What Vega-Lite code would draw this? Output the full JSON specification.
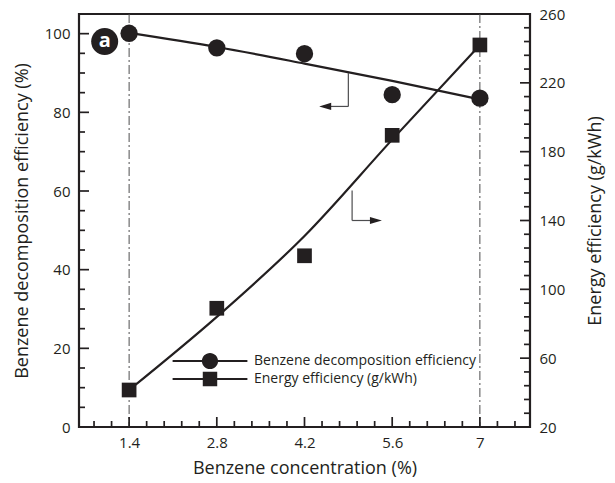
{
  "$schema": "https://vega.github.io/schema/vega-lite/v6.json",
  "width": 451,
  "height": 413,
  "autosize": "none",
  "padding": {"left": 79, "top": 14, "right": 85, "bottom": 56},
  "background": "white",
  "config": {
    "font": "Open Sans",
    "view": {"stroke": "#231f20", "strokeWidth": 2.2},
    "axis": {
      "domain": false,
      "grid": false,
      "ticks": false,
      "tickSize": 0,
      "labelColor": "#231f20",
      "titleColor": "#231f20",
      "labelFont": "Open Sans",
      "titleFont": "Open Sans",
      "labelFontSize": 15,
      "titleFontSize": 18,
      "titleFontWeight": "normal",
      "labelOverlap": false,
      "labelFlush": false
    }
  },
  "datasets": {
    "measured": [
      {"conc": 1.4, "decomposition": 100.1, "energy": 41.5},
      {"conc": 2.8, "decomposition": 96.4, "energy": 89},
      {"conc": 4.2, "decomposition": 94.9, "energy": 119.5},
      {"conc": 5.6, "decomposition": 84.5, "energy": 189.5},
      {"conc": 7.0, "decomposition": 83.6, "energy": 242}
    ],
    "fitted": [
      {"conc": 1.4, "decomposition": 100.2, "energy": 41.5},
      {"conc": 2.8, "decomposition": 96.6, "energy": 84},
      {"conc": 4.2, "decomposition": 92.4, "energy": 131},
      {"conc": 5.6, "decomposition": 88.0, "energy": 187},
      {"conc": 7.0, "decomposition": 83.3, "energy": 242}
    ],
    "bounds": [{"conc": 1.4}, {"conc": 7.0}],
    "xTicks": [
      {"v": 0.84, "kind": "minor"}, {"v": 1.12, "kind": "minor"}, {"v": 1.4, "kind": "major"},
      {"v": 1.68, "kind": "minor"}, {"v": 1.96, "kind": "minor"}, {"v": 2.24, "kind": "minor"}, {"v": 2.52, "kind": "minor"}, {"v": 2.8, "kind": "major"},
      {"v": 3.08, "kind": "minor"}, {"v": 3.36, "kind": "minor"}, {"v": 3.64, "kind": "minor"}, {"v": 3.92, "kind": "minor"}, {"v": 4.2, "kind": "major"},
      {"v": 4.48, "kind": "minor"}, {"v": 4.76, "kind": "minor"}, {"v": 5.04, "kind": "minor"}, {"v": 5.32, "kind": "minor"}, {"v": 5.6, "kind": "major"},
      {"v": 5.88, "kind": "minor"}, {"v": 6.16, "kind": "minor"}, {"v": 6.44, "kind": "minor"}, {"v": 6.72, "kind": "minor"}, {"v": 7.0, "kind": "major"},
      {"v": 7.28, "kind": "minor"}, {"v": 7.56, "kind": "minor"}
    ],
    "leftTicks": [
      {"v": 0, "kind": "major"}, {"v": 5, "kind": "minor"}, {"v": 10, "kind": "minor"}, {"v": 15, "kind": "minor"},
      {"v": 20, "kind": "major"}, {"v": 25, "kind": "minor"}, {"v": 30, "kind": "minor"}, {"v": 35, "kind": "minor"},
      {"v": 40, "kind": "major"}, {"v": 45, "kind": "minor"}, {"v": 50, "kind": "minor"}, {"v": 55, "kind": "minor"},
      {"v": 60, "kind": "major"}, {"v": 65, "kind": "minor"}, {"v": 70, "kind": "minor"}, {"v": 75, "kind": "minor"},
      {"v": 80, "kind": "major"}, {"v": 85, "kind": "minor"}, {"v": 90, "kind": "minor"}, {"v": 95, "kind": "minor"},
      {"v": 100, "kind": "major"}
    ],
    "rightTicks": [
      {"v": 28, "kind": "minor"}, {"v": 36, "kind": "minor"}, {"v": 44, "kind": "minor"}, {"v": 52, "kind": "minor"},
      {"v": 60, "kind": "major"}, {"v": 68, "kind": "minor"}, {"v": 76, "kind": "minor"}, {"v": 84, "kind": "minor"}, {"v": 92, "kind": "minor"},
      {"v": 100, "kind": "major"}, {"v": 108, "kind": "minor"}, {"v": 116, "kind": "minor"}, {"v": 124, "kind": "minor"}, {"v": 132, "kind": "minor"},
      {"v": 140, "kind": "major"}, {"v": 148, "kind": "minor"}, {"v": 156, "kind": "minor"}, {"v": 164, "kind": "minor"}, {"v": 172, "kind": "minor"},
      {"v": 180, "kind": "major"}, {"v": 188, "kind": "minor"}, {"v": 196, "kind": "minor"}, {"v": 204, "kind": "minor"}, {"v": 212, "kind": "minor"},
      {"v": 220, "kind": "major"}, {"v": 228, "kind": "minor"}, {"v": 236, "kind": "minor"}, {"v": 244, "kind": "minor"}, {"v": 252, "kind": "minor"}
    ],
    "decompArrow": [
      {"x": 4.9, "x2": 4.9, "y": 90.0, "y2": 81.5},
      {"x": 4.9, "x2": 4.5, "y": 81.5, "y2": 81.5}
    ],
    "decompHead": [{"x": 4.53, "y": 81.5}],
    "energyArrow": [
      {"x": 4.96, "x2": 4.96, "y": 157.4, "y2": 140},
      {"x": 4.96, "x2": 5.33, "y": 140, "y2": 140}
    ],
    "energyHead": [{"x": 5.34, "y": 140}],
    "panel": [{"x": 1.01, "y": 98.0, "label": "a"}],
    "series": [
      {"series": "Benzene decomposition efficiency"},
      {"series": "Energy efficiency (g/kWh)"}
    ]
  },
  "layer": [
    {
      "data": {"name": "bounds"},
      "mark": {"type": "rule", "color": "#4d4d4f", "strokeWidth": 1, "strokeDash": [9, 3, 2, 3]},
      "encoding": {
        "x": {
          "field": "conc", "type": "quantitative",
          "scale": {"domain": [0.6, 7.8], "nice": false, "zero": false},
          "axis": {
            "orient": "bottom",
            "values": [1.4, 2.8, 4.2, 5.6, 7],
            "labelExpr": "datum.value == 7 ? '7' : format(datum.value, '.1f')",
            "labelPadding": 8,
            "title": "Benzene concentration (%)",
            "titlePadding": 9
          }
        }
      }
    },
    {
      "data": {"name": "xTicks"},
      "mark": {"type": "tick", "orient": "vertical", "clip": true, "color": "#231f20", "thickness": 1.7, "opacity": 1},
      "encoding": {
        "x": {"field": "v", "type": "quantitative", "axis": null},
        "y": {"datum": 0, "type": "quantitative", "scale": {"domain": [0, 105], "nice": false}, "axis": null},
        "size": {"field": "kind", "type": "nominal", "scale": {"domain": ["major", "minor"], "range": [20, 12]}, "legend": null}
      }
    },
    {
      "data": {"name": "leftTicks"},
      "mark": {"type": "tick", "orient": "horizontal", "clip": true, "color": "#231f20", "thickness": 1.7, "opacity": 1},
      "encoding": {
        "x": {"datum": 0.6, "type": "quantitative", "axis": null},
        "y": {"field": "v", "type": "quantitative", "scale": {"domain": [0, 105], "nice": false}, "axis": null},
        "size": {"field": "kind", "type": "nominal", "scale": {"domain": ["major", "minor"], "range": [20, 12]}, "legend": null}
      }
    },
    {
      "data": {"name": "rightTicks"},
      "mark": {"type": "tick", "orient": "horizontal", "clip": true, "color": "#231f20", "thickness": 1.7, "opacity": 1},
      "encoding": {
        "x": {"datum": 7.8, "type": "quantitative", "axis": null},
        "y": {"field": "v", "type": "quantitative", "scale": {"domain": [20, 260], "nice": false, "zero": false}, "axis": null},
        "size": {"field": "kind", "type": "nominal", "scale": {"domain": ["major", "minor"], "range": [20, 12]}, "legend": null}
      }
    },
    {
      "data": {"name": "fitted"},
      "mark": {"type": "line", "color": "#231f20", "strokeWidth": 2.2, "interpolate": "monotone"},
      "encoding": {
        "x": {"field": "conc", "type": "quantitative", "axis": null},
        "y": {
          "field": "decomposition", "type": "quantitative",
          "scale": {"domain": [0, 105], "nice": false},
          "axis": {
            "orient": "left",
            "values": [0, 20, 40, 60, 80, 100],
            "labelPadding": 9,
            "title": "Benzene decomposition efficiency (%)",
            "titlePadding": 13
          }
        }
      }
    },
    {
      "data": {"name": "measured"},
      "mark": {"type": "point", "shape": "circle", "filled": true, "color": "#231f20", "opacity": 1, "size": 300},
      "encoding": {
        "x": {"field": "conc", "type": "quantitative", "axis": null},
        "y": {"field": "decomposition", "type": "quantitative", "scale": {"domain": [0, 105], "nice": false}, "axis": null}
      }
    },
    {
      "data": {"name": "fitted"},
      "mark": {"type": "line", "color": "#231f20", "strokeWidth": 2.2, "interpolate": "monotone"},
      "encoding": {
        "x": {"field": "conc", "type": "quantitative", "axis": null},
        "y": {
          "field": "energy", "type": "quantitative",
          "scale": {"domain": [20, 260], "nice": false, "zero": false},
          "axis": {
            "orient": "right",
            "values": [20, 60, 100, 140, 180, 220, 260],
            "labelPadding": 9,
            "title": "Energy efficiency (g/kWh)",
            "titleAngle": 270,
            "titlePadding": 40
          }
        }
      }
    },
    {
      "data": {"name": "measured"},
      "mark": {"type": "point", "shape": "square", "filled": true, "color": "#231f20", "opacity": 1, "size": 216},
      "encoding": {
        "x": {"field": "conc", "type": "quantitative", "axis": null},
        "y": {"field": "energy", "type": "quantitative", "scale": {"domain": [20, 260], "nice": false, "zero": false}, "axis": null}
      }
    },
    {
      "data": {"name": "decompArrow"},
      "mark": {"type": "rule", "color": "#4d4d4f", "strokeWidth": 1.2},
      "encoding": {
        "x": {"field": "x", "type": "quantitative", "axis": null},
        "x2": {"field": "x2"},
        "y": {"field": "y", "type": "quantitative", "scale": {"domain": [0, 105], "nice": false}, "axis": null},
        "y2": {"field": "y2"}
      }
    },
    {
      "data": {"name": "decompHead"},
      "mark": {"type": "point", "shape": "M-1,0L1,-0.6L1,0.6Z", "filled": true, "color": "#231f20", "opacity": 1, "size": 144},
      "encoding": {
        "x": {"field": "x", "type": "quantitative", "axis": null},
        "y": {"field": "y", "type": "quantitative", "scale": {"domain": [0, 105], "nice": false}, "axis": null}
      }
    },
    {
      "data": {"name": "energyArrow"},
      "mark": {"type": "rule", "color": "#4d4d4f", "strokeWidth": 1.2},
      "encoding": {
        "x": {"field": "x", "type": "quantitative", "axis": null},
        "x2": {"field": "x2"},
        "y": {"field": "y", "type": "quantitative", "scale": {"domain": [20, 260], "nice": false, "zero": false}, "axis": null},
        "y2": {"field": "y2"}
      }
    },
    {
      "data": {"name": "energyHead"},
      "mark": {"type": "point", "shape": "M1,0L-1,-0.6L-1,0.6Z", "filled": true, "color": "#231f20", "opacity": 1, "size": 144},
      "encoding": {
        "x": {"field": "x", "type": "quantitative", "axis": null},
        "y": {"field": "y", "type": "quantitative", "scale": {"domain": [20, 260], "nice": false, "zero": false}, "axis": null}
      }
    },
    {
      "data": {"name": "series"},
      "mark": {"type": "point", "filled": true, "color": "#231f20", "opacity": 1},
      "encoding": {
        "x": {"field": "conc", "type": "quantitative", "axis": null},
        "y": {"field": "value", "type": "quantitative", "scale": {"domain": [0, 105], "nice": false}, "axis": null},
        "shape": {
          "field": "series", "type": "nominal",
          "scale": {
            "domain": ["Benzene decomposition efficiency", "Energy efficiency (g/kWh)"],
            "range": [
              "M-4.4,-0.12H4.4V0.12H-4.4ZM0.95,0A0.95,0.95,0,1,1,-0.95,0A0.95,0.95,0,1,1,0.95,0Z",
              "M-4.4,-0.12H4.4V0.12H-4.4ZM-0.85,-0.85H0.85V0.85H-0.85Z"
            ]
          },
          "legend": {
            "orient": "none",
            "legendX": 122.5,
            "legendY": 338.5,
            "title": null,
            "padding": 0,
            "symbolSize": 289,
            "symbolFillColor": "#231f20",
            "symbolStrokeWidth": 0,
            "labelOffset": 35.5,
            "labelLimit": 0,
            "labelFontSize": 14,
            "labelFont": "Open Sans",
            "labelColor": "#231f20",
            "rowPadding": 1
          }
        }
      }
    },
    {
      "data": {"name": "panel"},
      "mark": {"type": "point", "shape": "circle", "filled": true, "color": "#231f20", "opacity": 1, "size": 729},
      "encoding": {
        "x": {"field": "x", "type": "quantitative", "axis": null},
        "y": {"field": "y", "type": "quantitative", "scale": {"domain": [0, 105], "nice": false}, "axis": null}
      }
    },
    {
      "data": {"name": "panel"},
      "mark": {"type": "text", "color": "white", "font": "Open Sans", "fontSize": 20, "fontWeight": "bold", "align": "center", "baseline": "middle", "dy": -1},
      "encoding": {
        "x": {"field": "x", "type": "quantitative", "axis": null},
        "y": {"field": "y", "type": "quantitative", "scale": {"domain": [0, 105], "nice": false}, "axis": null},
        "text": {"field": "label"}
      }
    }
  ],
  "resolve": {
    "scale": {"y": "independent"},
    "axis": {"x": "independent", "y": "independent"}
  }
}
